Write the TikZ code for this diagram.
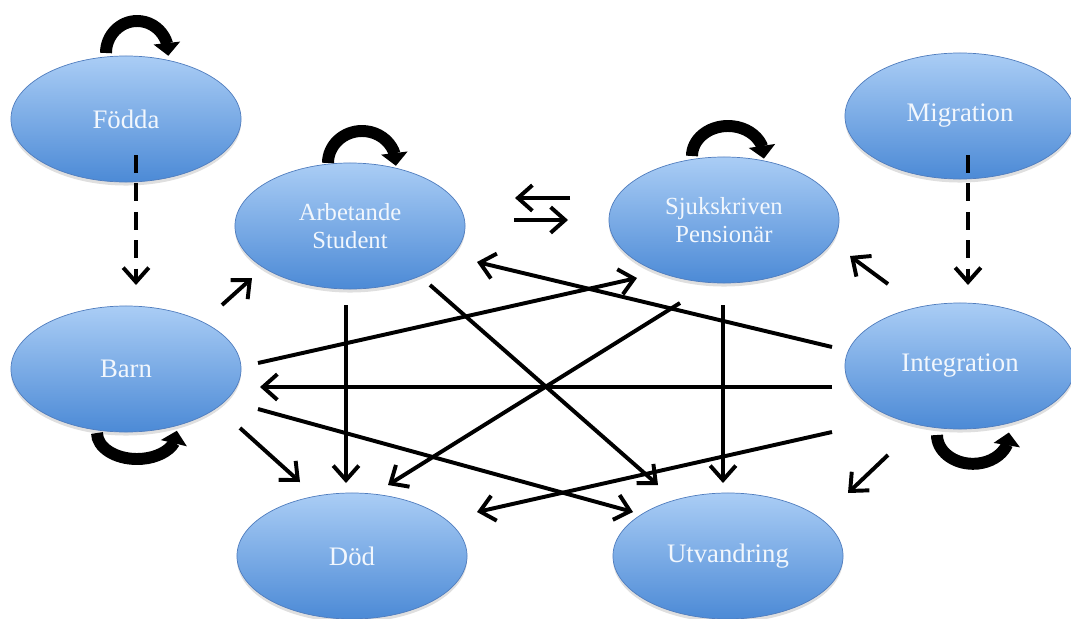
\documentclass[tikz,border=0pt]{standalone}
\usepackage{fontspec}
\setmainfont{Liberation Serif}
\usepackage{xcolor}
\usetikzlibrary{shapes.geometric, arrows.meta, bending, calc, shadows}
\definecolor{sttop}{RGB}{170,205,245}
\definecolor{stbottom}{RGB}{76,138,214}
\definecolor{stedge}{RGB}{80,125,190}
\definecolor{sttext}{RGB}{242,247,253}
\tikzset{
  state/.style    = {ellipse, draw=stedge, line width=0.5pt,
                     top color=sttop, bottom color=stbottom, text=sttext, align=center,
                     minimum width=5.75cm, minimum height=3.15cm, inner sep=0pt,
                     font=\fontsize{19}{22}\selectfont,
                     drop shadow={opacity=0.25, shadow xshift=0pt, shadow yshift=-2.5pt}},
  twoline/.style  = {font=\fontsize{17.5}{20}\selectfont},
  flow/.style     = {-{Straight Barb[length=3.6mm, width=6.4mm]}, line width=2.8pt, draw=black},
  dashflow/.style = {flow, dash pattern=on 4.5mm off 2.6mm},
  selfloop/.style = {-{Triangle[length=3.2mm, width=6.5mm, flex]}, line width=8.5pt, draw=black},
}

\begin{document}
\begin{tikzpicture}[x=0.025cm, y=-0.025cm]
  \useasboundingbox (0,0) rectangle (1071,618);
  \node[state] (fodda) at (126,119) {Födda};
  \node[state] (migr) at (960,116) {Migration};
  \node[state, twoline] (arb) at (350,226) {Arbetande\\Student};
  \node[state, twoline] (sjuk) at (724,220) {Sjukskriven\\Pensionär};
  \node[state] (barn) at (126,369) {Barn};
  \node[state] (integ) at (960,366) {Integration};
  \node[state] (dod) at (352,556) {Död};
  \node[state] (utv) at (728,556) {Utvandring};

  \draw[selfloop] ($(fodda)+(-20,-66)$) arc[start angle=180, end angle=-5, x radius=0.78cm, y radius=0.8cm];
  \draw[selfloop] ($(arb)+(-22,-63)$) arc[start angle=180, end angle=-5, x radius=0.85cm, y radius=0.8cm];
  \draw[selfloop] ($(sjuk)+(-32,-64)$) arc[start angle=180, end angle=-5, x radius=0.9cm, y radius=0.75cm];
  \draw[selfloop] ($(barn)+(-29,64)$) arc[start angle=180, end angle=365, x radius=1cm, y radius=0.65cm];
  \draw[selfloop] ($(integ)+(-23,69)$) arc[start angle=180, end angle=365, x radius=0.9cm, y radius=0.72cm];

  \draw[dashflow] ($(fodda)+(10,36)$) -- ($(barn)+(10,-84)$);
  \draw[dashflow] ($(migr)+(8,39)$) -- ($(integ)+(8,-81)$);

  \draw[flow] ($(sjuk)+(-154,-22)$) -- ($(arb)+(165,-28)$);
  \draw[flow] ($(arb)+(164,-6)$) -- ($(sjuk)+(-156,0)$);
  \draw[flow] ($(barn)+(96,-64)$) -- ($(arb)+(-98,52)$);
  \draw[flow] ($(integ)+(-72,-82)$) -- ($(sjuk)+(126,36)$);
  \draw[flow] ($(integ)+(-128,-19)$) -- ($(arb)+(127,36)$);
  \draw[flow] ($(barn)+(132,-6)$) -- ($(sjuk)+(-87,58)$);
  \draw[flow] ($(integ)+(-128,21)$) -- ($(barn)+(134,18)$);
  \draw[flow] ($(barn)+(132,40)$) -- ($(utv)+(-95,-44)$);
  \draw[flow] ($(integ)+(-128,66)$) -- ($(dod)+(125,-44)$);
  \draw[flow] ($(barn)+(114,59)$) -- ($(dod)+(-52,-74)$);
  \draw[flow] ($(arb)+(-4,79)$) -- ($(dod)+(-6,-73)$);
  \draw[flow] ($(sjuk)+(-44,83)$) -- ($(dod)+(36,-71)$);
  \draw[flow] ($(arb)+(80,59)$) -- ($(utv)+(-70,-71)$);
  \draw[flow] ($(sjuk)+(-1,85)$) -- ($(utv)+(-5,-73)$);
  \draw[flow] ($(integ)+(-72,89)$) -- ($(utv)+(120,-63)$);
\end{tikzpicture}
\end{document}
